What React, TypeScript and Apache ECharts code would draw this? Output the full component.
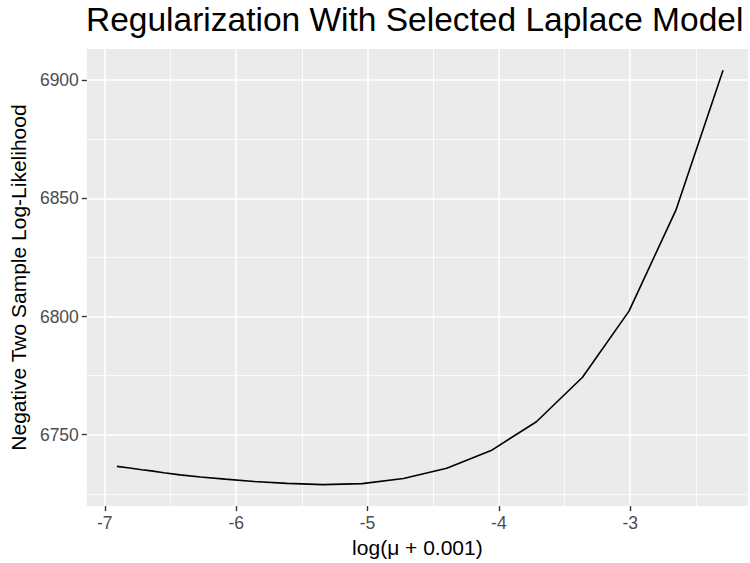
import React, { useEffect, useRef } from "react";
import * as echarts from "echarts";

// log(mu + 0.001) values
const logMu: number[] = [
  -6.908, -6.812, -6.772, -6.719, -6.646, -6.55, -6.427, -6.272, -6.084, -5.864,
  -5.614, -5.339, -5.041, -4.726, -4.397, -4.059, -3.714, -3.363, -3.009, -2.652, -2.293,
];
// Negative two sample log-likelihood
const nll: number[] = [
  6736.6, 6735.9, 6735.6, 6735.2, 6734.7, 6733.9, 6733.0, 6732.1, 6731.2, 6730.2,
  6729.4, 6728.9, 6729.3, 6731.5, 6735.8, 6743.3, 6755.5, 6774.3, 6802.3, 6845.0, 6904.2,
];

const xMajor: number[] = [-7, -6, -5, -4, -3];
const xMinor: number[] = [-6.5, -5.5, -4.5, -3.5, -2.5];
const yMajor: number[] = [6750, 6800, 6850, 6900];
const yMinor: number[] = [6725, 6775, 6825, 6875];

const FONT = "'Liberation Sans', Arial, Helvetica, sans-serif";

export default function App() {
  const ref = useRef<HTMLDivElement | null>(null);

  useEffect(() => {
    if (!ref.current) return;
    const chart = echarts.init(ref.current, undefined, { renderer: "svg" });
    const data = logMu.map((x, i) => [x, nll[i]]);
    chart.setOption({
      animation: false,
      backgroundColor: "#ffffff",
      title: {
        text: "Regularization With Selected Laplace Model",
        left: 86,
        top: 2,
        padding: 0,
        textStyle: {
          fontFamily: FONT,
          fontSize: 33.5,
          fontWeight: "normal",
          color: "#000000",
        },
      },
      grid: {
        left: 86,
        right: 2,
        top: 49,
        bottom: 53,
        show: true,
        backgroundColor: "#EBEBEB",
        borderWidth: 0,
      },
      xAxis: {
        type: "value",
        min: -7.137,
        max: -2.103,
        name: "log(\u03bc + 0.001)",
        nameLocation: "middle",
        nameGap: 26,
        nameTextStyle: { fontFamily: FONT, fontSize: 21, color: "#000000" },
        axisLine: { show: false },
        axisTick: {
          show: true,
          length: 5,
          customValues: xMajor,
          lineStyle: { color: "#333333", width: 1.4 },
        },
        axisLabel: {
          customValues: xMajor,
          margin: 8,
          fontFamily: FONT,
          fontSize: 17.5,
          color: "#4D4D4D",
          formatter: (v: number) => String(v),
        },
        splitLine: { show: true, lineStyle: { color: "#ffffff", width: 1.6 } },
      },
      yAxis: {
        type: "value",
        min: 6719.8,
        max: 6913.2,
        name: "Negative Two Sample Log-Likelihood",
        nameLocation: "middle",
        nameRotate: 90,
        nameGap: 55,
        nameTextStyle: { fontFamily: FONT, fontSize: 21, color: "#000000" },
        axisLine: { show: false },
        axisTick: {
          show: true,
          length: 5,
          customValues: yMajor,
          lineStyle: { color: "#333333", width: 1.4 },
        },
        axisLabel: {
          customValues: yMajor,
          margin: 8,
          fontFamily: FONT,
          fontSize: 17.5,
          color: "#4D4D4D",
          formatter: (v: number) => String(v),
        },
        splitLine: { show: true, lineStyle: { color: "#ffffff", width: 1.6 } },
      },
      series: [
        {
          type: "line",
          z: 1,
          data: data,
          showSymbol: false,
          silent: true,
          lineStyle: { width: 0, opacity: 0 },
          markLine: {
            z: 1,
            silent: true,
            symbol: ["none", "none"],
            label: { show: false },
            emphasis: { disabled: true },
            lineStyle: { color: "#ffffff", width: 0.8, type: "solid" },
            data: [
              ...xMinor.map((v) => ({ xAxis: v })),
              ...yMinor.map((v) => ({ yAxis: v })),
            ],
          },
        },
        {
          type: "line",
          z: 10,
          data: data,
          showSymbol: false,
          symbol: "none",
          silent: true,
          lineStyle: { color: "#000000", width: 1.6 },
        },
      ],
    });
    return () => chart.dispose();
  }, []);

  return (
    <div
      ref={ref}
      style={{ position: "absolute", left: 0, top: 0, width: 750, height: 563 }}
    />
  );
}
